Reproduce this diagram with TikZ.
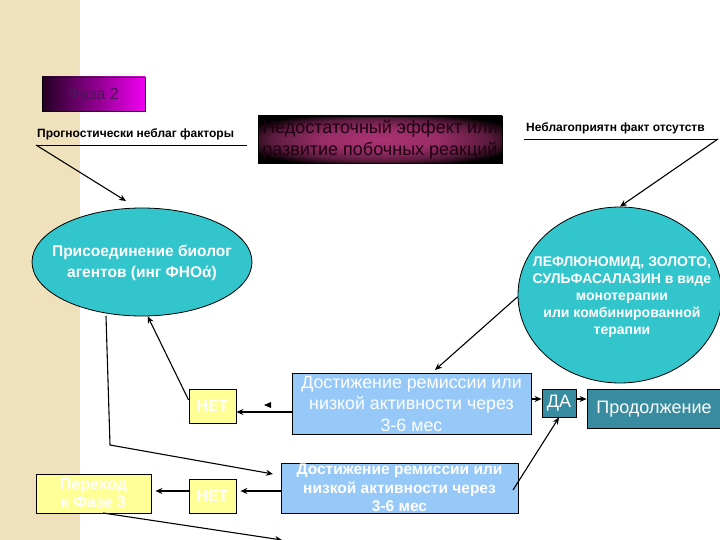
\documentclass[tikz,border=0pt]{standalone}
\usepackage{fontspec}
\setmainfont{Liberation Sans}
\usetikzlibrary{shapes.geometric,arrows.meta,calc}
\definecolor{stripe}{RGB}{239,225,187}
\definecolor{tealc}{RGB}{51,197,204}
\definecolor{lblue}{RGB}{150,200,248}
\definecolor{dteal}{RGB}{56,140,160}
\definecolor{lyel}{RGB}{255,255,150}
\definecolor{mag}{RGB}{240,0,240}
\definecolor{fazaleft}{RGB}{35,0,35}
\definecolor{wine}{RGB}{170,50,115}
\definecolor{fazatext}{RGB}{80,20,90}
\definecolor{nedtext}{RGB}{30,0,15}
\pgfdeclareradialshading{nedsh}{\pgfpoint{0bp}{0bp}}{color(0bp)=(wine); color(12bp)=(wine!90!black); color(22bp)=(wine!55!black); color(30bp)=(black); color(50bp)=(black)}
\tikzset{
  arr/.style={draw=black,line width=1.1pt,-{Stealth[length=7pt,width=6pt]}},
  ln/.style={draw=black,line width=0.9pt},
  boxn/.style={draw=black,line width=0.8pt,rectangle,inner sep=0pt,align=center},
  yel/.style={boxn,fill=lyel,text=white,font=\bfseries\fontsize{16}{18}\selectfont},
  blue1/.style={boxn,fill=lblue,text=white},
  tealbox/.style={boxn,fill=dteal,text=white,font=\fontsize{18}{20}\selectfont},
  lbl/.style={inner sep=0pt,font=\bfseries\fontsize{12}{14}\selectfont},
  ellsh/.style={ellipse,draw=black,line width=0.8pt,fill=tealc,inner sep=0pt},
  elltext/.style={inner sep=0pt,text=white,align=center}
}
\begin{document}
\begin{tikzpicture}[x=1pt,y=-1pt]
\useasboundingbox (0,0) rectangle (720,540);
\fill[white] (0,0) rectangle (720,540);
\fill[stripe] (0,0) rectangle (80,540);

\coordinate (y399) at (0,399);
\coordinate (y400) at (0,400);
\coordinate (y412) at (0,412);
\coordinate (y491) at (0,491);

% Phase box
\node[boxn,minimum width=103pt,minimum height=34pt,left color=fazaleft,right color=mag,
  text=fazatext,font=\fontsize{16}{18}\selectfont] (faza) at (93.5,94) {Фаза 2};

% left label
\node[lbl,anchor=south west] (prog) at (37,140) {Прогностически неблаг факторы};
\coordinate (pl) at (36,145);
\coordinate (pr) at (247,145);
\draw[ln] (pl) -- (pr);

% dark box
\node[boxn,minimum width=244pt,minimum height=47pt,shading=nedsh] (ned) at (380,139.5) {};
\begin{scope}
\clip (ned.south west) rectangle (ned.north east);
\node[inner sep=0pt,align=left,text=nedtext,
  font=\fontsize{18}{22}\selectfont] (nedt) at (ned.center) {Недостаточный эффект или\\развитие побочных реакций};
\end{scope}

% right label
\node[lbl,anchor=south west] (neb) at (526,134) {Неблагоприятн факт отсутств};
\coordinate (nl) at (524,139);
\coordinate (nr) at (718,139);
\draw[ln] (nl) -- (nr);

% ellipses
\node[ellsh,minimum width=220pt,minimum height=108pt] (ell) at (142,262) {};
\node[elltext,font=\bfseries\fontsize{15.5}{21}\selectfont] (ellt) at (142,263)
  {Присоединение биолог\\агентов (инг ФНОά)};
\node[ellsh,minimum width=204pt,minimum height=176pt] (circ) at (620,295) {};
\node[elltext,font=\bfseries\fontsize{14}{16.8}\selectfont] (circt) at (622,297)
  {ЛЕФЛЮНОМИД, ЗОЛОТО,\\СУЛЬФАСАЛАЗИН в виде\\монотерапии\\или комбинированной\\терапии};

% blue boxes
\node[blue1,minimum width=239pt,minimum height=61pt,font=\fontsize{17.8}{21.5}\selectfont] (box1) at (411.5,403.5)
  {Достижение ремиссии или\\низкой активности через\\3-6 мес};
\node[blue1,minimum width=237pt,minimum height=50pt,font=\bfseries\fontsize{15.5}{18.5}\selectfont] (box2) at (399.5,488)
  {Достижение ремиссии или\\низкой активности через\\3-6 мес};

% teal boxes
\node[tealbox,minimum width=34pt,minimum height=28pt] (da) at (559,403) {ДА};
\node[tealbox,minimum width=134pt,minimum height=39pt] (prod) at (654,409) {Продолжение};

% yellow boxes
\node[yel,minimum width=47pt,minimum height=34pt] (net1) at (212.5,406) {НЕТ};
\node[yel,minimum width=47pt,minimum height=34pt] (net2) at (212.5,496) {НЕТ};
\node[yel,minimum width=115pt,minimum height=39pt,font=\bfseries\fontsize{16}{18}\selectfont] (per) at (93.5,493.5) {Переход\\к Фазе 3};

% connectors
\coordinate (a1) at (126,201);
\draw[arr] (pl) -- (a1);
\draw[arr] (nr) -- (circ.north);
\coordinate (b1t) at (435,370);
\draw[arr] (circ.181) -- (b1t);
\draw[arr] (net1.west |- y400) -- (ell.-84);
\coordinate (e1) at (106,316);
\coordinate (e2) at (110,445);
\coordinate (e3) at (273,474);
\draw[arr] (e1) -- (e2) -- (e3);
\draw[arr] (box1.west |- y412) -- (net1.east |- y412);
\draw[arr] (box1.east |- y399) -- (da.west |- y399);
\draw[arr] (da.east |- y399) -- (prod.west |- y399);
\draw[arr] (box2.west |- y491) -- ($(net2.east |- y491)+(4,0)$);
\draw[arr] (net2.west |- y491) -- ($(per.east |- y491)+(4,0)$);
\coordinate (pb) at (103,513);
\coordinate (out) at (282,540);
\draw[arr] (pb) -- (out);
\coordinate (b2r) at (513,490);
\draw[arr] (b2r) -- (da.south);
\fill[black] (264,405) -- (271,402) -- (271,408) -- cycle;
\end{tikzpicture}
\end{document}
